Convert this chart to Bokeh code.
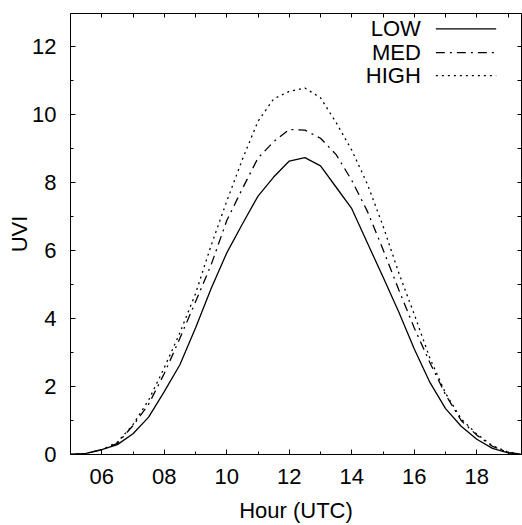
from bokeh.plotting import figure
from bokeh.models import FixedTicker, LinearAxis, Range1d
from bokeh.core.properties import value
from bokeh.embed import file_html
from bokeh.resources import INLINE

hours = [5.0, 5.5, 6.0, 6.5, 7.0, 7.5, 8.0, 8.5, 9.0, 9.5,
         10.0, 10.5, 11.0, 11.5, 12.0, 12.5, 13.0, 13.5, 14.0, 14.5,
         15.0, 15.5, 16.0, 16.5, 17.0, 17.5, 18.0, 18.5, 19.0, 19.5]
uvi_low = [0.0, 0.03, 0.14, 0.29, 0.61, 1.10, 1.85, 2.64, 3.72, 4.88,
           5.93, 6.78, 7.60, 8.16, 8.63, 8.73, 8.49, 7.86, 7.23, 6.22,
           5.22, 4.20, 3.10, 2.12, 1.35, 0.83, 0.45, 0.18, 0.05, 0.0]
uvi_med = [0.0, 0.03, 0.14, 0.33, 0.85, 1.48, 2.38, 3.42, 4.49, 5.58,
           6.88, 7.82, 8.72, 9.20, 9.56, 9.54, 9.30, 8.82, 8.06, 7.15,
           6.03, 4.85, 3.72, 2.70, 1.76, 1.00, 0.57, 0.24, 0.06, 0.0]
uvi_high = [0.0, 0.03, 0.14, 0.36, 0.88, 1.60, 2.55, 3.58, 4.73, 6.15,
            7.45, 8.68, 9.80, 10.46, 10.68, 10.78, 10.49, 9.76, 8.95, 7.95,
            6.72, 5.35, 4.12, 2.83, 1.80, 1.05, 0.60, 0.26, 0.07, 0.0]

series_names = ["LOW", "MED", "HIGH"]
x_ticks = [6, 8, 10, 12, 14, 16, 18]
x_tick_labels = ["06", "08", "10", "12", "14", "16", "18"]
x_minor = [5, 7, 9, 11, 13, 15, 17, 19]
y_ticks = [0, 2, 4, 6, 8, 10, 12]
y_minor = [1, 3, 5, 7, 9, 11]

FONT = "Liberation Sans"
FS = "22px"

p = figure(width=522, height=525, output_backend="svg", toolbar_location=None,
           x_range=Range1d(5, 19.43), y_range=Range1d(0, 12.97),
           min_border_left=70, min_border_right=1, min_border_top=13,
           min_border_bottom=70, x_axis_label="Hour (UTC)", y_axis_label="UVI")
p.grid.visible = False
p.outline_line_color = "black"
p.outline_line_width = 1
p.background_fill_color = "white"
p.border_fill_color = "white"

xt = FixedTicker(ticks=x_ticks, minor_ticks=x_minor)
yt = FixedTicker(ticks=y_ticks, minor_ticks=y_minor)

def style(ax, show_labels):
    ax.axis_line_color = None
    ax.major_tick_in = 5
    ax.major_tick_out = 0
    ax.minor_tick_in = 3
    ax.minor_tick_out = 0
    ax.major_tick_line_color = "black"
    ax.minor_tick_line_color = "black"
    if show_labels:
        ax.major_label_text_font = FONT
        ax.major_label_text_font_size = FS
        ax.major_label_text_color = "black"
        ax.axis_label_text_font = FONT
        ax.axis_label_text_font_size = FS
        ax.axis_label_text_font_style = "normal"
        ax.axis_label_text_color = "black"
    else:
        ax.major_label_text_font_size = "1px"
        ax.major_label_text_color = None
        ax.major_label_standoff = 0

xa = p.xaxis[0]
xa.ticker = xt
xa.major_label_overrides = {t: l for t, l in zip(x_ticks, x_tick_labels)}
style(xa, True)
xa.major_label_standoff = 14
xa.axis_label_standoff = 11

ya = p.yaxis[0]
ya.ticker = yt
style(ya, True)
ya.major_label_standoff = 14
ya.axis_label_standoff = -3

top = LinearAxis(ticker=FixedTicker(ticks=x_ticks + x_minor))
style(top, False)
top.minor_tick_in = 0
top.major_tick_in = 4
p.add_layout(top, "above")
right = LinearAxis(ticker=FixedTicker(ticks=y_ticks + y_minor))
style(right, False)
right.minor_tick_in = 0
right.major_tick_in = 4
p.add_layout(right, "right")

dashes = ["solid", "9 5 2 5", "2 4"]
series = [uvi_low, uvi_med, uvi_high]
for name, ys, dash in zip(series_names, series, dashes):
    p.line(hours, ys, line_color="black", line_width=1.3, line_dash=dash)

# legend (gnuplot style: label left, sample right)
leg_y = [12.52, 11.82, 11.14]
for name, dash, ly in zip(series_names, dashes, leg_y):
    p.text(x=[16.21], y=[ly], text=[name], text_align="right", text_baseline="middle",
           text_font=value(FONT), text_font_size=FS, text_color="black")
    p.line([16.69, 18.62], [ly, ly], line_color="black", line_width=1.3, line_dash=dash)

open("out.html", "w").write(file_html(p, INLINE))
